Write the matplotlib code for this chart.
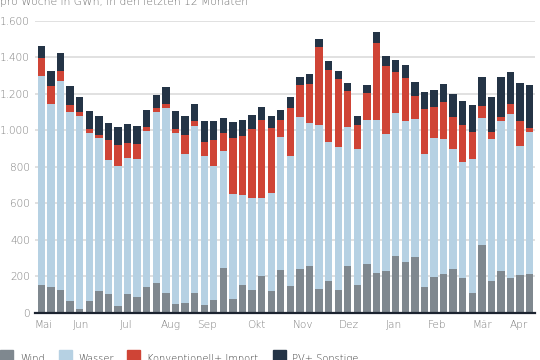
import matplotlib
matplotlib.use("Agg")
import matplotlib.pyplot as plt
from matplotlib.ticker import FuncFormatter
from matplotlib.patches import Rectangle
import numpy as np

plt.rcParams['font.family'] = ['DejaVu Sans']

title = "pro Woche in GWh, in den letzten 12 Monaten"
series_names = ["Wind", "Wasser", "Konventionell+ Import", "PV+ Sonstige"]
colors = ["#7f888f", "#b6d1e3", "#cf4436", "#243446"]

wind = [152, 143, 126, 62, 22, 62, 121, 102, 37, 101, 86, 141, 164, 110, 48, 51, 106, 42, 71, 245,
        77, 150, 126, 201, 117, 234, 146, 241, 254, 132, 172, 126, 254, 150, 265, 219, 230, 309, 280, 303,
        143, 196, 210, 241, 192, 106, 373, 175, 230, 190, 205, 210]
wasser = [1148, 1001, 1144, 1036, 1058, 923, 837, 735, 769, 745, 757, 853, 938, 1012, 937, 817, 918, 815, 731, 643,
          572, 493, 505, 430, 541, 727, 711, 832, 784, 897, 764, 781, 766, 746, 793, 839, 750, 784, 771, 761,
          725, 764, 744, 656, 636, 738, 693, 777, 819, 899, 711, 780]
konv = [98, 99, 55, 41, 20, 20, 16, 110, 113, 86, 82, 24, 20, 20, 20, 106, 29, 81, 145, 99,
        307, 327, 374, 425, 356, 95, 265, 173, 216, 430, 395, 374, 195, 133, 145, 422, 371, 228, 236, 126,
        251, 168, 199, 178, 201, 148, 69, 39, 26, 57, 135, 24]
pv = [66, 82, 99, 102, 84, 103, 104, 91, 99, 101, 99, 93, 73, 97, 103, 104, 91, 113, 104, 80,
      88, 88, 79, 72, 64, 57, 62, 48, 53, 43, 49, 44, 46, 49, 43, 57, 58, 64, 69, 73,
      89, 93, 99, 122, 133, 145, 155, 193, 215, 174, 206, 232]

month_labels = ["Mai", "Jun", "Jul", "Aug", "Sep", "Okt", "Nov", "Dez", "Jan", "Feb", "Mär", "Apr"]
month_pos = [0.17, 4.14, 8.82, 13.5, 17.26, 22.4, 27.3, 32.1, 36.8, 41.3, 46.07, 49.9]
yticks = [0, 200, 400, 600, 800, 1000, 1200, 1400, 1600]

W, H = 540, 360
fig = plt.figure(figsize=(W / 100, H / 100), dpi=100)
ax = fig.add_axes([35 / W, 1 - 312.7 / H, 500 / W, (312.7 - 20.8) / H])

x = np.arange(len(wind))
bottom = np.zeros(len(wind))
for vals, c in zip([wind, wasser, konv, pv], colors):
    ax.bar(x, vals, width=0.77, bottom=bottom, color=c, linewidth=0, zorder=3)
    bottom += np.array(vals)

ax.set_xlim(-0.67, 51.55)
ax.set_ylim(0, 1600)
ax.set_yticks(yticks)
ax.yaxis.set_major_formatter(FuncFormatter(lambda v, p: f"{int(v):,}".replace(",", ".")))
ax.set_xticks(month_pos)
ax.set_xticklabels(month_labels)
ax.tick_params(axis='both', length=0, labelsize=7.6, labelcolor="#7d7d7d")
for lab in ax.get_xticklabels() + ax.get_yticklabels():
    lab.set_fontweight('light')
ax.tick_params(axis='y', pad=3.5)
ax.tick_params(axis='x', pad=5)
ax.grid(axis='y', color="#dedede", linewidth=1.3, zorder=1)
for s in ['top', 'right', 'left']:
    ax.spines[s].set_visible(False)
ax.spines['bottom'].set_color("#1c2430")
ax.spines['bottom'].set_linewidth(1.6)
ax.spines['bottom'].set_zorder(5)

fig.text(0, 1 - 5 / H, title, fontsize=7.75, color="#707070", va='baseline', ha='left',
         fontweight='light')

sq_x = [0, 59, 127, 273]
tx_x = [20, 78, 147, 292]
for name, c, sx, tx in zip(series_names, colors, sq_x, tx_x):
    fig.patches.append(Rectangle((sx / W, 1 - 363 / H), 12.5 / W, 13 / H,
                                 transform=fig.transFigure, color=c, figure=fig))
    fig.text(tx / W, 1 - 361.5 / H, name, fontsize=7.1, color="#3a3a3a", va='baseline', ha='left',
             fontweight='light')

fig.savefig("out.png", dpi=100)
